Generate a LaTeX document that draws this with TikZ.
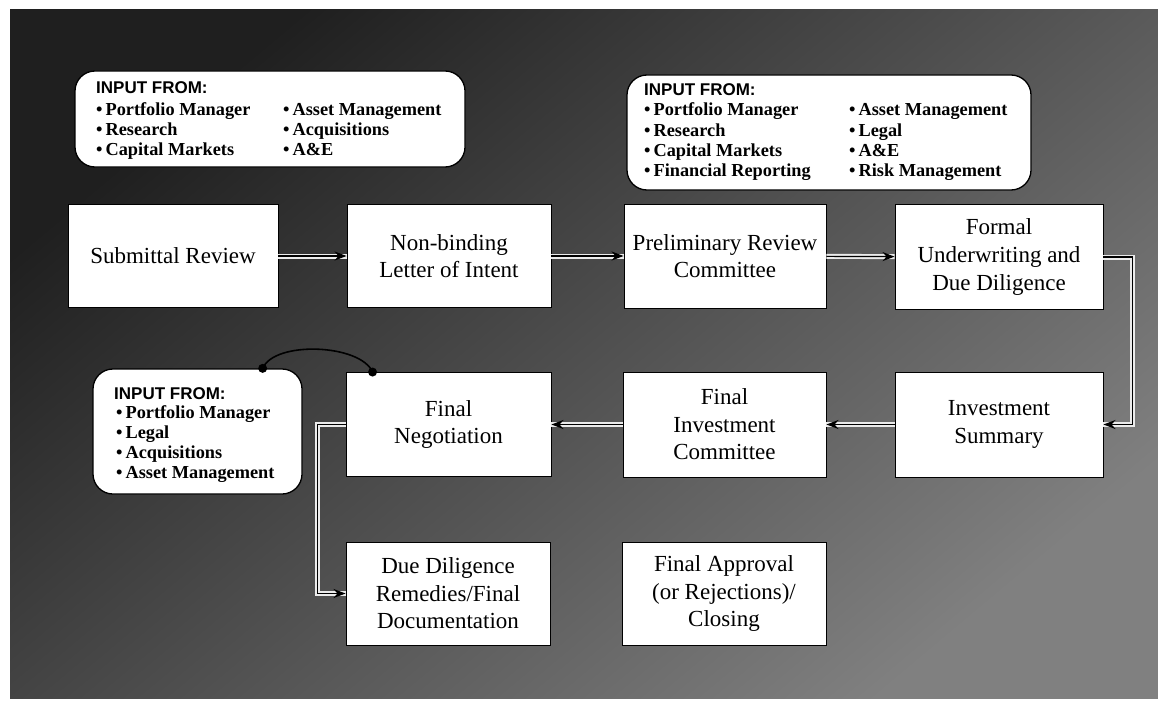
\documentclass[tikz,border=0pt]{standalone}
\usepackage{fontspec}
\setmainfont{Liberation Serif}
\setsansfont{Liberation Sans}
\usetikzlibrary{arrows.meta}
\begin{document}
\begin{tikzpicture}[x=1pt,y=-1pt,
  stepbox/.style={draw=black,line width=0.9pt,fill=white,align=center,inner sep=2pt,
    font=\fontsize{23}{27.5}\selectfont},
  inputbox/.style={draw=black,line width=1.3pt,fill=white,rounded corners=20pt,inner sep=0pt},
  hdr/.style={anchor=base west,inner sep=0pt,font=\sffamily\bfseries\fontsize{17}{20}\selectfont},
  lst/.style={anchor=base west,inner sep=0pt,font=\bfseries\fontsize{18.3}{20.3}\selectfont},
  conn/.style={draw=black,line width=1.2pt,-{Stealth[length=12pt,width=9pt]},
    preaction={draw=black!8,line width=5pt,-{}}},
  arc/.style={draw=black,line width=1.6pt},
  dot/.style={fill=black}]
\useasboundingbox (0,0) rectangle (1158,706);
% background
\fill[white] (0,0) rectangle (1158,706);
\shade[top color=black!88, bottom color=black!50, shading angle=40] (10,10) rectangle (1158,698);
\newcommand{\bl}{\textbullet\hspace{3pt}}
% input boxes
\node[inputbox,minimum width=390pt,minimum height=96pt] (tl) at (270,119) {};
\node[inputbox,minimum width=404pt,minimum height=115pt] (tr) at (829,132.5) {};
\node[inputbox,minimum width=209pt,minimum height=125pt] (inl) at (197.5,431.5) {};
\node[hdr] (tlh) at (96,94) {INPUT FROM:};
\node[lst] (tl1) at (96,115) {\begin{tabular}[t]{@{}l@{}}\bl Portfolio Manager\\ \bl Research\\ \bl Capital Markets\end{tabular}};
\node[lst] (tl2) at (283,115) {\begin{tabular}[t]{@{}l@{}}\bl Asset Management\\ \bl Acquisitions\\ \bl A\&E\end{tabular}};
\node[hdr] (trh) at (644,96) {INPUT FROM:};
\node[lst] (tr1) at (644,116) {\begin{tabular}[t]{@{}l@{}}\bl Portfolio Manager\\ \bl Research\\ \bl Capital Markets\\ \bl Financial Reporting\end{tabular}};
\node[lst] (tr2) at (849,116) {\begin{tabular}[t]{@{}l@{}}\bl Asset Management\\ \bl Legal\\ \bl A\&E\\ \bl Risk Management\end{tabular}};
\node[hdr] (inlh) at (114,399) {INPUT FROM:};
\node[lst] (inl1) at (116,418) {\begin{tabular}[t]{@{}l@{}}\bl Portfolio Manager\\ \bl Legal\\ \bl Acquisitions\\ \bl Asset Management\end{tabular}};
% process boxes
\node[stepbox,minimum width=210pt,minimum height=103pt] (sub) at (173,256) {Submittal Review};
\node[stepbox,minimum width=204pt,minimum height=103pt] (loi) at (449,256) {Non-binding\\Letter of Intent};
\node[stepbox,minimum width=202pt,minimum height=104pt] (prc) at (725,256) {Preliminary Review\\Committee};
\node[stepbox,minimum width=208pt,minimum height=105pt] (fud) at (999,257) {Formal\\Underwriting and\\Due Diligence};
\node[stepbox,minimum width=208pt,minimum height=105pt] (ins) at (999,424.5) {Investment\\Summary};
\node[stepbox,minimum width=203pt,minimum height=105pt] (fic) at (724.5,424.5) {Final\\Investment\\Committee};
\node[stepbox,minimum width=205pt,minimum height=104pt] (fn) at (448.5,424.5) {Final\\Negotiation};
\node[stepbox,minimum width=204pt,minimum height=103pt] (dd) at (448,593.5) {Due Diligence\\Remedies/Final\\Documentation};
\node[stepbox,minimum width=204pt,minimum height=103pt] (fa) at (724,593.5) {Final Approval\\(or Rejections)/\\Closing};
% connectors
\draw[conn] (sub) -- (loi);
\draw[conn] (loi) -- (prc);
\draw[conn] (prc) -- (fud);
\draw[conn] (fud.east) -- ++(29,0) |- (ins.east);
\draw[conn] (ins) -- (fic);
\draw[conn] (fic) -- (fn);
\draw[conn] (fn.west) -- ++(-28,0) |- (dd.west);
% arc link
\coordinate (a1) at ([xshift=-40pt]inl.north east);
\coordinate (a2) at ([xshift=27pt]fn.north west);
\draw[arc] (a1) .. controls ([shift={(12,-28)}]a1) and ([shift={(-12,-28)}]a2) .. (a2);
\fill[dot] (a1) circle (4.5);
\fill[dot] (a2) circle (4.5);
\end{tikzpicture}
\end{document}
